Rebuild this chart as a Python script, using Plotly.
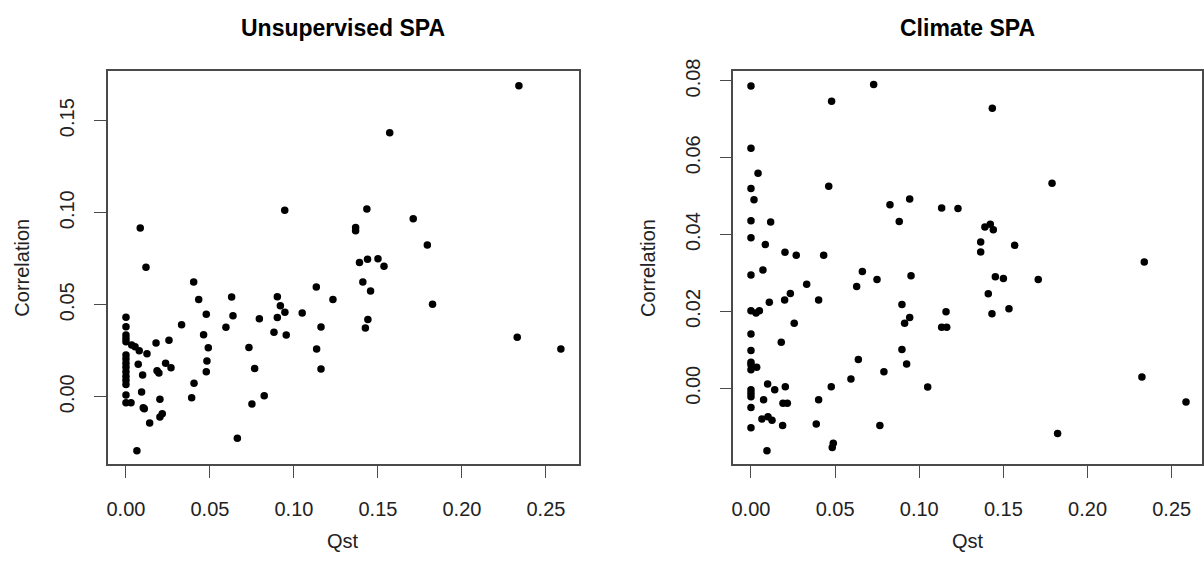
import plotly.graph_objects as go

# ---- Data: Unsupervised SPA ----
unsup_qst = [
    0.0085, 0.0119, 0.0945, 0.0403, 0.2339, 0.157, 0.1434, 0.171, 0.1367, 0.1367,
    0.1794, 0.139, 0.1438, 0.150, 0.1536, 0.141, 0.1456, 0.1232, 0.1825, 0.144,
    0.1425, 0.2329, 0.2589, 0.0433, 0.0629, 0.0901, 0.1133, 0.0919, 0.0946, 0.1049,
    0.0901, 0.0794, 0.0637, 0.0478, 0.0331, 0.0595, 0.1161, 0.0462, 0.0881, 0.0954,
    0.0256, 0.0179, 0.0034, 0.0054, 0.0079, 0.0125, 0.049, 0.0732, 0.1135, 0.0073,
    0.0236, 0.0268, 0.0185, 0.0196, 0.0099, 0.0482, 0.0478, 0.0766, 0.1161, 0.0405,
    0.0093, 0.0391, 0.0823, 0.075, 0.0202, 0.003, 0.0103, 0.0109, 0.0216, 0.0202,
    0.0141, 0.0663, 0.0065,
    0.0, 0.0, 0.0, 0.0, 0.0, 0.0, 0.0, 0.0, 0.0, 0.0, 0.0, 0.0, 0.0, 0.0, 0.0,
]
unsup_corr = [
    0.0917, 0.0703, 0.1013, 0.0623, 0.169, 0.1435, 0.102, 0.0967, 0.0919, 0.0902,
    0.0824, 0.073, 0.0747, 0.075, 0.0709, 0.0623, 0.0574, 0.0529, 0.0502, 0.042,
    0.0373, 0.0323, 0.0259, 0.0529, 0.0542, 0.0543, 0.0596, 0.0495, 0.0459, 0.0455,
    0.043, 0.0424, 0.044, 0.0448, 0.0391, 0.0377, 0.0379, 0.0337, 0.035, 0.0335,
    0.0307, 0.0292, 0.0281, 0.0272, 0.025, 0.0234, 0.0266, 0.0268, 0.0259, 0.0176,
    0.0182, 0.0158, 0.0141, 0.0129, 0.0118, 0.0194, 0.0136, 0.0154, 0.0151, 0.0073,
    0.0026, -0.0005, 0.0005, -0.004, -0.0014, -0.0033, -0.006, -0.0065, -0.0092, -0.011,
    -0.0143, -0.0226, -0.0293,
    0.0432, 0.038, 0.0335, 0.0317, 0.0299, 0.0227, 0.0205, 0.0182, 0.016, 0.0136,
    0.0112, 0.009, 0.0067, 0.001, -0.0033,
]

# ---- Data: Climate SPA ----
clim_qst = [
    0.0, 0.0729, 0.0479, 0.0, 0.0042, 0.0, 0.0462, 0.0018, 0.0826, 0.0943,
    0.0881, 0.1133, 0.0, 0.0117, 0.0, 0.0085, 0.0202, 0.0269, 0.0432, 0.1434,
    0.1789, 0.123, 0.139, 0.1422, 0.144, 0.1365, 0.1365, 0.1567, 0.2337, 0.1452,
    0.15, 0.1707, 0.141, 0.1159, 0.1432, 0.1533, 0.1133, 0.1163, 0.105, 0.2323,
    0.1822, 0.2585, 0.0, 0.0071, 0.0662, 0.0628, 0.0749, 0.0951, 0.0331, 0.0234,
    0.02, 0.0109, 0.0402, 0.0897, 0.0943, 0.0913, 0.0, 0.003, 0.005, 0.0257,
    0.0, 0.018, 0.0, 0.0, 0.0, 0.0034, 0.0, 0.0638, 0.0897, 0.0925,
    0.079, 0.0594, 0.0477, 0.0099, 0.0141, 0.0204, 0.0, 0.0, 0.0, 0.0075,
    0.019, 0.0216, 0.0402, 0.0, 0.0065, 0.0101, 0.0125, 0.0188, 0.0388, 0.0766,
    0.0, 0.0489, 0.0483, 0.0095,
]
clim_corr = [
    0.0787, 0.0791, 0.0747, 0.0625, 0.056, 0.052, 0.0526, 0.0491, 0.0478, 0.0493,
    0.0434, 0.0469, 0.0436, 0.0433, 0.0392, 0.0374, 0.0354, 0.0346, 0.0346, 0.0729,
    0.0534, 0.0468, 0.042, 0.0427, 0.0413, 0.0381, 0.0355, 0.0372, 0.0329, 0.029,
    0.0286, 0.0283, 0.0246, 0.0199, 0.0194, 0.0207, 0.0159, 0.0159, 0.0003, 0.0029,
    -0.0118, -0.0036, 0.0295, 0.0308, 0.0304, 0.0265, 0.0283, 0.0293, 0.0271, 0.0247,
    0.023, 0.0224, 0.023, 0.0218, 0.0184, 0.0169, 0.0202, 0.0196, 0.0202, 0.0169,
    0.0141, 0.012, 0.0098, 0.0068, 0.0061, 0.0055, 0.0048, 0.0075, 0.0101, 0.0063,
    0.0043, 0.0024, 0.0004, 0.0011, -0.0004, 0.0004, -0.0004, -0.0013, -0.0022, -0.003,
    -0.0039, -0.0039, -0.003, -0.005, -0.008, -0.0074, -0.0083, -0.0097, -0.0093, -0.0097,
    -0.0103, -0.0143, -0.0154, -0.0163,
]

x_ticks = [0.00, 0.05, 0.10, 0.15, 0.20, 0.25]
y_ticks_unsup = [0.00, 0.05, 0.10, 0.15]
y_ticks_clim = [0.00, 0.02, 0.04, 0.06, 0.08]
titles = ["Unsupervised SPA", "Climate SPA"]
x_label = "Qst"
y_label = "Correlation"

W, H = 1204, 569
FONT = "Liberation Sans, Arial, Helvetica, sans-serif"
LINE = "#4a4a4a"

fig = go.Figure()
marker = dict(color="black", size=7.5, line=dict(width=0))
fig.add_trace(go.Scatter(x=unsup_qst, y=unsup_corr, mode="markers", marker=marker,
                         xaxis="x", yaxis="y", showlegend=False))
fig.add_trace(go.Scatter(x=clim_qst, y=clim_corr, mode="markers", marker=marker,
                         xaxis="x2", yaxis="y2", showlegend=False))

# pixel layout
L1, R1 = 108, 578.7
L2, R2 = 733.3, 1202
TOP, BOT = 71, 464.3

def px(v):
    return v / W

def py(v):
    return 1 - v / H

common_x = dict(tickvals=x_ticks, tickformat=".2f", ticks="outside", ticklen=12,
                tickwidth=1.3, tickcolor=LINE, showline=True, linecolor=LINE,
                linewidth=1.6, mirror=True, showgrid=False, zeroline=False,
                tickfont=dict(size=20, color="#222", family=FONT),
                ticklabelstandoff=14, automargin=False)
common_y = dict(tickformat=".2f", ticks="outside", ticklen=12, tickwidth=1.3,
                tickcolor=LINE, showline=True, linecolor=LINE, linewidth=1.6,
                mirror=True, showgrid=False, zeroline=False, tickangle=-90,
                tickfont=dict(size=20, color="#222", family=FONT),
                ticklabelstandoff=12, automargin=False)

fig.update_layout(
    width=W, height=H,
    margin=dict(l=0, r=0, t=0, b=0),
    paper_bgcolor="white", plot_bgcolor="white",
    font=dict(family=FONT, color="#222"),
    xaxis=dict(domain=[px(L1), px(R1)], range=[-0.0107, 0.2695], anchor="y", **common_x),
    yaxis=dict(domain=[py(BOT), py(TOP)], range=[-0.0367, 0.177], anchor="x",
               tickvals=y_ticks_unsup, **common_y),
    xaxis2=dict(domain=[px(L2), px(R2)], range=[-0.0105, 0.268], anchor="y2", **common_x),
    yaxis2=dict(domain=[py(BOT), py(TOP)], range=[-0.0198, 0.0826], anchor="x2",
                tickvals=y_ticks_clim, **common_y),
)

annotations = []
for (l, r), t in zip([(L1, R1), (L2, R2)], titles):
    cx = (l + r) / 2
    annotations.append(dict(text="<b>" + t + "</b>", x=px(cx), y=py(28), xref="paper", yref="paper",
                            showarrow=False, xanchor="center", yanchor="middle",
                            font=dict(size=23, color="black", family=FONT)))
    annotations.append(dict(text=x_label, x=px(cx), y=py(541), xref="paper", yref="paper",
                            showarrow=False, xanchor="center", yanchor="middle",
                            font=dict(size=20, color="#222", family=FONT)))
    annotations.append(dict(text=y_label, x=px(l - 86), y=py((TOP + BOT) / 2), xref="paper",
                            yref="paper", showarrow=False, xanchor="center", yanchor="middle",
                            textangle=-90, font=dict(size=20, color="#222", family=FONT)))
fig.update_layout(annotations=annotations)

fig.write_html("out.html", config={"displayModeBar": False},
               post_script="document.body.style.margin='0';document.body.style.overflow='hidden';")
